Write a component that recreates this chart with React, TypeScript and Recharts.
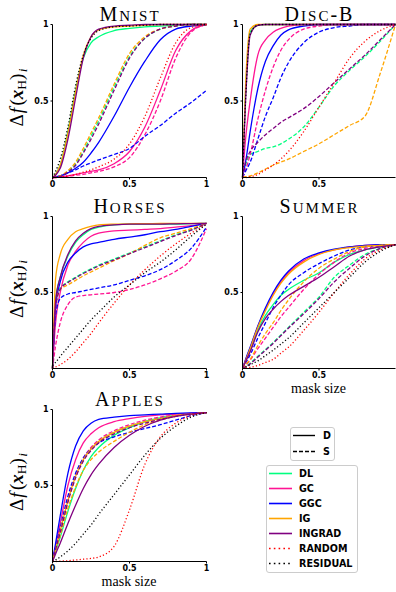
import React from "react";
import { LineChart, Line, XAxis, YAxis } from "recharts";

// mask size sample points shared by every panel
const MASK = [0, 0.02, 0.05, 0.1, 0.15, 0.2, 0.25, 0.3, 0.4, 0.5, 0.6, 0.7, 0.8, 0.9, 1];

const METHODS = ["DL", "GC", "GGC", "IG", "INGRAD"];
const COLORS: Record<string, string> = {
  DL: "#00ff7f",
  GC: "#ff1493",
  GGC: "#0000ff",
  IG: "#ffa500",
  INGRAD: "#800080",
  RANDOM: "#ff0000",
  RESIDUAL: "#000000",
};

const mnist: Record<string, number[]> = {
  DL_D: [0, 0.02, 0.08, 0.3, 0.57, 0.78, 0.88, 0.92, 0.96, 0.975, 0.985, 0.99, 0.995, 1, 1],
  GC_D: [0, 0, 0.005, 0.01, 0.02, 0.03, 0.04, 0.05, 0.09, 0.17, 0.33, 0.57, 0.83, 0.96, 1],
  GGC_D: [0, 0.005, 0.01, 0.03, 0.06, 0.1, 0.16, 0.23, 0.4, 0.59, 0.76, 0.9, 0.97, 0.99, 1],
  IG_D: [0, 0.02, 0.08, 0.29, 0.56, 0.8, 0.92, 0.965, 0.985, 0.99, 0.995, 1, 1, 1, 1],
  INGRAD_D: [0, 0.015, 0.06, 0.25, 0.52, 0.78, 0.92, 0.97, 0.99, 0.995, 1, 1, 1, 1, 1],
  DL_S: [0, 0.003, 0.01, 0.04, 0.09, 0.17, 0.27, 0.37, 0.59, 0.79, 0.91, 0.97, 0.99, 1, 1],
  GC_S: [0, 0, 0.003, 0.008, 0.015, 0.02, 0.03, 0.04, 0.07, 0.13, 0.28, 0.5, 0.78, 0.95, 1],
  GGC_S: [0, 0.003, 0.01, 0.03, 0.05, 0.075, 0.095, 0.115, 0.15, 0.19, 0.27, 0.34, 0.42, 0.49, 0.57],
  IG_S: [0, 0.003, 0.01, 0.045, 0.1, 0.19, 0.29, 0.39, 0.61, 0.81, 0.92, 0.97, 0.99, 1, 1],
  INGRAD_S: [0, 0.002, 0.008, 0.035, 0.08, 0.16, 0.25, 0.35, 0.57, 0.78, 0.91, 0.97, 0.99, 1, 1],
  RANDOM: [0, 0, 0.004, 0.01, 0.02, 0.035, 0.05, 0.07, 0.12, 0.22, 0.4, 0.65, 0.88, 0.98, 1],
  RESIDUAL: [0, 0.04, 0.12, 0.33, 0.6, 0.8, 0.91, 0.96, 0.985, 0.99, 0.995, 1, 1, 1, 1],
};

const discB: Record<string, number[]> = {
  DL_D: [0, 0.55, 0.95, 0.995, 1, 1, 1, 1, 1, 1, 1, 1, 1, 1, 1],
  GC_D: [0, 0.25, 0.5, 0.8, 0.9, 0.95, 0.975, 0.99, 1, 1, 1, 1, 1, 1, 1],
  GGC_D: [0, 0.1, 0.3, 0.58, 0.76, 0.86, 0.93, 0.965, 0.99, 1, 1, 1, 1, 1, 1],
  IG_D: [0, 0.6, 0.97, 1, 1, 1, 1, 1, 1, 1, 1, 1, 1, 1, 1],
  INGRAD_D: [0, 0.5, 0.93, 0.995, 1, 1, 1, 1, 1, 1, 1, 1, 1, 1, 1],
  DL_S: [0, 0.08, 0.15, 0.17, 0.19, 0.2, 0.22, 0.25, 0.33, 0.46, 0.6, 0.7, 0.79, 0.89, 1],
  GC_S: [0, 0.05, 0.15, 0.38, 0.57, 0.72, 0.83, 0.9, 0.97, 0.99, 1, 1, 1, 1, 1],
  GGC_S: [0, 0.04, 0.1, 0.25, 0.4, 0.52, 0.65, 0.75, 0.88, 0.95, 0.98, 0.99, 1, 1, 1],
  IG_S: [0, 0.005, 0.01, 0.03, 0.055, 0.08, 0.1, 0.12, 0.17, 0.22, 0.28, 0.34, 0.4, 0.68, 1],
  INGRAD_S: [0, 0.1, 0.17, 0.23, 0.28, 0.32, 0.36, 0.39, 0.45, 0.53, 0.62, 0.71, 0.8, 0.9, 1],
  RANDOM: [0, 0, 0.005, 0.02, 0.05, 0.08, 0.12, 0.17, 0.3, 0.46, 0.62, 0.78, 0.89, 0.96, 1],
  RESIDUAL: [0, 0.5, 0.94, 0.995, 1, 1, 1, 1, 1, 1, 1, 1, 1, 1, 1],
};

const horses: Record<string, number[]> = {
  DL_D: [0, 0.45, 0.6, 0.74, 0.83, 0.88, 0.915, 0.93, 0.945, 0.95, 0.95, 0.95, 0.95, 0.953, 0.955],
  GC_D: [0, 0.3, 0.5, 0.68, 0.77, 0.83, 0.87, 0.89, 0.905, 0.91, 0.915, 0.92, 0.93, 0.94, 0.955],
  GGC_D: [0, 0.4, 0.57, 0.7, 0.76, 0.8, 0.82, 0.83, 0.85, 0.865, 0.88, 0.9, 0.915, 0.935, 0.955],
  IG_D: [0, 0.59, 0.75, 0.85, 0.9, 0.92, 0.935, 0.945, 0.95, 0.952, 0.953, 0.954, 0.955, 0.955, 0.955],
  INGRAD_D: [0, 0.44, 0.6, 0.75, 0.84, 0.89, 0.92, 0.935, 0.945, 0.95, 0.95, 0.95, 0.952, 0.953, 0.955],
  DL_S: [0, 0.4, 0.53, 0.57, 0.6, 0.63, 0.655, 0.68, 0.72, 0.76, 0.8, 0.84, 0.88, 0.91, 0.955],
  GC_S: [0, 0.15, 0.3, 0.42, 0.47, 0.48, 0.485, 0.49, 0.5, 0.52, 0.55, 0.59, 0.64, 0.72, 0.92],
  GGC_S: [0, 0.35, 0.46, 0.49, 0.5, 0.51, 0.52, 0.53, 0.55, 0.58, 0.61, 0.65, 0.71, 0.79, 0.93],
  IG_S: [0, 0.42, 0.52, 0.55, 0.58, 0.61, 0.635, 0.66, 0.71, 0.755, 0.81, 0.86, 0.89, 0.92, 0.955],
  INGRAD_S: [0, 0.4, 0.52, 0.565, 0.595, 0.625, 0.65, 0.675, 0.715, 0.755, 0.795, 0.835, 0.875, 0.91, 0.955],
  RANDOM: [0, 0.01, 0.025, 0.06, 0.11, 0.17, 0.23, 0.3, 0.43, 0.55, 0.65, 0.74, 0.82, 0.89, 0.95],
  RESIDUAL: [0.02, 0.04, 0.08, 0.14, 0.2, 0.26, 0.32, 0.37, 0.47, 0.55, 0.63, 0.7, 0.78, 0.87, 0.95],
};

const summer: Record<string, number[]> = {
  DL_D: [0, 0.05, 0.12, 0.25, 0.35, 0.42, 0.48, 0.52, 0.58, 0.63, 0.7, 0.75, 0.78, 0.8, 0.815],
  GC_D: [0, 0.055, 0.135, 0.275, 0.39, 0.49, 0.57, 0.63, 0.71, 0.755, 0.78, 0.8, 0.81, 0.815, 0.815],
  GGC_D: [0, 0.06, 0.14, 0.28, 0.4, 0.5, 0.58, 0.64, 0.72, 0.76, 0.785, 0.8, 0.81, 0.815, 0.815],
  IG_D: [0, 0.05, 0.13, 0.27, 0.38, 0.48, 0.56, 0.62, 0.7, 0.75, 0.78, 0.795, 0.805, 0.81, 0.815],
  INGRAD_D: [0, 0.045, 0.11, 0.24, 0.33, 0.39, 0.44, 0.48, 0.54, 0.6, 0.67, 0.74, 0.78, 0.8, 0.815],
  DL_S: [0, 0.012, 0.035, 0.08, 0.125, 0.17, 0.22, 0.27, 0.37, 0.47, 0.6, 0.68, 0.75, 0.79, 0.815],
  GC_S: [0, 0.02, 0.055, 0.13, 0.2, 0.27, 0.34, 0.4, 0.52, 0.62, 0.7, 0.76, 0.79, 0.805, 0.815],
  GGC_S: [0, 0.035, 0.09, 0.2, 0.3, 0.4, 0.48, 0.55, 0.63, 0.69, 0.74, 0.78, 0.8, 0.81, 0.815],
  IG_S: [0, 0.025, 0.06, 0.15, 0.23, 0.3, 0.38, 0.45, 0.57, 0.66, 0.72, 0.77, 0.8, 0.81, 0.815],
  INGRAD_S: [0, 0.01, 0.03, 0.075, 0.12, 0.165, 0.215, 0.265, 0.36, 0.46, 0.57, 0.66, 0.74, 0.79, 0.815],
  RANDOM: [0, 0.003, 0.008, 0.02, 0.04, 0.06, 0.1, 0.14, 0.25, 0.37, 0.5, 0.62, 0.72, 0.78, 0.815],
  RESIDUAL: [0, 0.01, 0.025, 0.05, 0.085, 0.12, 0.16, 0.2, 0.3, 0.4, 0.5, 0.6, 0.7, 0.77, 0.815],
};

const apples: Record<string, number[]> = {
  DL_D: [0, 0.065, 0.16, 0.33, 0.48, 0.6, 0.69, 0.75, 0.83, 0.88, 0.92, 0.945, 0.96, 0.972, 0.98],
  GC_D: [0, 0.1, 0.25, 0.5, 0.67, 0.78, 0.84, 0.88, 0.92, 0.94, 0.955, 0.965, 0.97, 0.975, 0.98],
  GGC_D: [0, 0.12, 0.3, 0.58, 0.76, 0.86, 0.91, 0.935, 0.95, 0.96, 0.965, 0.97, 0.975, 0.978, 0.98],
  IG_D: [0, 0.08, 0.2, 0.4, 0.56, 0.67, 0.74, 0.79, 0.85, 0.89, 0.92, 0.94, 0.96, 0.97, 0.98],
  INGRAD_D: [0, 0.05, 0.12, 0.25, 0.37, 0.48, 0.57, 0.64, 0.75, 0.83, 0.89, 0.93, 0.955, 0.97, 0.98],
  DL_S: [0, 0.08, 0.2, 0.4, 0.56, 0.67, 0.74, 0.79, 0.85, 0.89, 0.92, 0.945, 0.96, 0.972, 0.98],
  GC_S: [0, 0.085, 0.21, 0.41, 0.57, 0.68, 0.75, 0.8, 0.86, 0.9, 0.93, 0.95, 0.965, 0.975, 0.98],
  GGC_S: [0, 0.09, 0.22, 0.43, 0.58, 0.68, 0.74, 0.78, 0.82, 0.85, 0.875, 0.9, 0.93, 0.96, 0.98],
  IG_S: [0, 0.07, 0.17, 0.35, 0.49, 0.6, 0.67, 0.72, 0.79, 0.85, 0.9, 0.93, 0.955, 0.97, 0.98],
  INGRAD_S: [0, 0.08, 0.19, 0.39, 0.55, 0.66, 0.73, 0.78, 0.84, 0.88, 0.91, 0.935, 0.955, 0.97, 0.98],
  RANDOM: [0, 0, 0.002, 0.005, 0.01, 0.015, 0.02, 0.03, 0.1, 0.34, 0.64, 0.82, 0.91, 0.96, 0.98],
  RESIDUAL: [0, 0.01, 0.03, 0.07, 0.12, 0.18, 0.24, 0.31, 0.44, 0.57, 0.7, 0.81, 0.89, 0.95, 0.98],
};

const SERIES = [
  ...METHODS.flatMap((m) => [
    { key: `${m}_D`, color: COLORS[m], dash: undefined as string | undefined },
    { key: `${m}_S`, color: COLORS[m], dash: "4 2" },
  ]),
  { key: "RANDOM", color: COLORS.RANDOM, dash: "1.2 2.2" },
  { key: "RESIDUAL", color: COLORS.RESIDUAL, dash: "1.2 2.2" },
];

const tickStyle = { fontSize: 8, fontWeight: 700, fontFamily: "DejaVu Sans", fill: "#000" };
const serif = "Liberation Serif";

type PanelProps = {
  title: string;
  values: Record<string, number[]>;
  px: number;
  py: number;
  pw: number;
  ph: number;
  xTicks: number[];
};

function Panel({ values, px, py, pw, ph, xTicks }: PanelProps) {
  const rows = MASK.map((m, i) => {
    const r: Record<string, number> = { m };
    for (const k of Object.keys(values)) r[k] = values[k][i];
    return r;
  });
  return (
    <div style={{ position: "absolute", left: px - 30, top: py - 5 }}>
      <LineChart
        width={pw + 35}
        height={ph + 26}
        data={rows}
        margin={{ top: 5.5, right: 4.5, bottom: 0.5, left: 0.5 }}
      >
        <XAxis
          dataKey="m"
          type="number"
          domain={[0, 1]}
          ticks={xTicks}
          height={20}
          tick={tickStyle}
          tickSize={2}
          tickMargin={2}
          axisLine={{ stroke: "#000" }}
          tickLine={{ stroke: "#000" }}
        />
        <XAxis
          xAxisId="top"
          orientation="top"
          dataKey="m"
          type="number"
          domain={[0, 1]}
          height={0}
          tick={false}
          tickLine={false}
          axisLine={{ stroke: "#000" }}
        />
        <YAxis
          type="number"
          domain={[0, 1]}
          ticks={[0.5, 1]}
          width={30}
          tick={tickStyle}
          tickSize={2}
          tickMargin={2}
          axisLine={{ stroke: "#000" }}
          tickLine={{ stroke: "#000" }}
        />
        <YAxis
          yAxisId="right"
          orientation="right"
          type="number"
          domain={[0, 1]}
          width={0}
          tick={false}
          tickLine={false}
          axisLine={{ stroke: "#000" }}
        />
        {SERIES.map((s) => (
          <Line
            key={s.key}
            dataKey={s.key}
            type="monotone"
            stroke={s.color}
            strokeWidth={1.3}
            strokeDasharray={s.dash}
            dot={false}
            activeDot={false}
            isAnimationActive={false}
          />
        ))}
      </LineChart>
    </div>
  );
}

const PANELS = [
  { title: "Mnist", values: mnist, px: 52, py: 24, pw: 154, ph: 153, xTicks: [0, 0.5, 1], yLabel: true, xLabel: false },
  { title: "Disc-B", values: discB, px: 242, py: 24, pw: 153, ph: 153, xTicks: [0, 0.5], yLabel: false, xLabel: false },
  { title: "Horses", values: horses, px: 52, py: 216, pw: 154, ph: 152, xTicks: [0, 0.5, 1], yLabel: true, xLabel: false },
  { title: "Summer", values: summer, px: 242, py: 216, pw: 153, ph: 152, xTicks: [0, 0.5], yLabel: false, xLabel: true },
  { title: "Apples", values: apples, px: 52, py: 409, pw: 154, ph: 152, xTicks: [0, 0.5, 1], yLabel: true, xLabel: true },
];

const LEGEND_ITEMS = ["DL", "GC", "GGC", "IG", "INGRAD", "RANDOM", "RESIDUAL"];

// small caps title: capitals at full size, lowercase letters as smaller capitals
function Title({ text, x, y }: { text: string; x: number; y: number }) {
  return (
    <text x={x} y={y} textAnchor="middle" fontFamily={serif} letterSpacing={2}>
      {text.split("").map((ch, i) => {
        const lower = ch !== ch.toUpperCase();
        return (
          <tspan key={i} fontSize={lower ? 15 : 20}>
            {ch.toUpperCase()}
          </tspan>
        );
      })}
    </text>
  );
}

function Overlay() {
  const legendFont = { fontFamily: "DejaVu Sans", fontWeight: 700, fontSize: 9.6 };
  return (
    <svg width={396} height={592} style={{ position: "absolute", left: 0, top: 0, pointerEvents: "none" }}>
      {PANELS.map((p) => {
        const cx = p.px + p.pw / 2;
        const cy = p.py + p.ph / 2;
        return (
          <g key={p.title}>
            <Title text={p.title} x={cx + 1} y={p.py - 3} />
            {p.yLabel && (
              <text
                transform={`translate(${22.5}, ${cy - 3}) rotate(-90)`}
                textAnchor="middle"
                fontFamily={serif}
                fontSize={19}
              >
                <tspan>Δ</tspan>
                <tspan fontStyle="italic" dx={1}>f</tspan>
                <tspan dx={2.5}>(</tspan>
                <tspan fontStyle="italic" fontWeight={700}>x</tspan>
                <tspan fontSize={13.5} dy={3}>H</tspan>
                <tspan dy={-3}>)</tspan>
                <tspan fontStyle="italic" fontSize={13.5} dy={4} dx={1.5}>i</tspan>
              </text>
            )}
            {p.xLabel && (
              <text x={cx} y={p.py + p.ph + 25} textAnchor="middle" fontFamily={serif} fontSize={14}>
                mask size
              </text>
            )}
          </g>
        );
      })}

      {/* style legend */}
      <rect x={290.5} y={427.5} width={44} height={33} rx={2.5} fill="#fff" stroke="#cccccc" />
      <line x1={293} x2={315} y1={435.5} y2={435.5} stroke="#000" strokeWidth={1.4} />
      <text x={323} y={439} {...legendFont}>D</text>
      <line x1={293} x2={315} y1={451.5} y2={451.5} stroke="#000" strokeWidth={1.4} strokeDasharray="4 2" />
      <text x={323} y={455} {...legendFont}>S</text>

      {/* method legend */}
      <rect x={266.5} y={465.5} width={91} height={107} rx={2.5} fill="#fff" stroke="#cccccc" />
      {LEGEND_ITEMS.map((k, i) => {
        const y = 473.5 + i * 15;
        const dotted = k === "RANDOM" || k === "RESIDUAL";
        return (
          <g key={k}>
            <line
              x1={269}
              x2={292}
              y1={y}
              y2={y}
              stroke={COLORS[k]}
              strokeWidth={1.6}
              strokeDasharray={dotted ? "1.6 3.2" : undefined}
            />
            <text x={299} y={y + 3.5} {...legendFont}>{k}</text>
          </g>
        );
      })}
    </svg>
  );
}

export default function App() {
  return (
    <div style={{ position: "absolute", left: 0, top: 0, width: 396, height: 592, overflow: "hidden", background: "#fff" }}>
      {PANELS.map((p) => (
        <Panel key={p.title} {...p} />
      ))}
      <Overlay />
    </div>
  );
}
